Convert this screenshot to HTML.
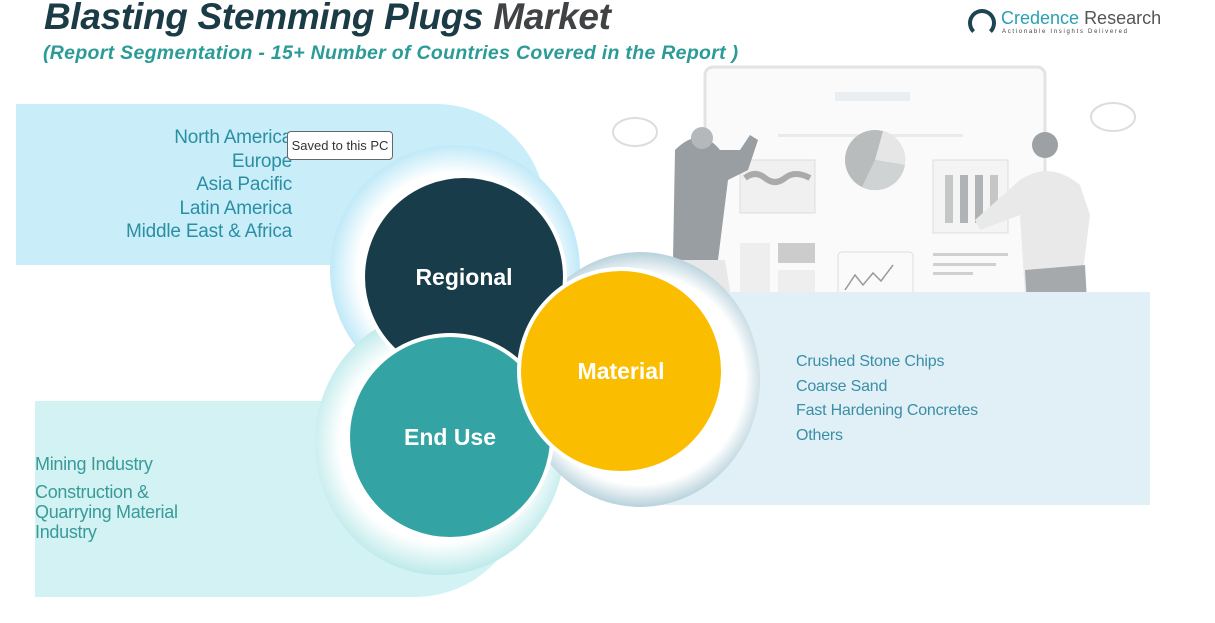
<!DOCTYPE html>
<html><head><meta charset="utf-8"><style>
body{margin:0;width:1215px;height:623px;background:#fff;position:relative;overflow:hidden;font-family:"Liberation Sans",sans-serif}
.a{position:absolute}
.t{font-weight:bold;font-style:italic}
.c{border-radius:50%;border:4px solid #fff;box-sizing:border-box;display:flex;align-items:center;justify-content:center;color:#fff;font-weight:bold;font-size:23px}
.reg div{font-size:19px;color:#2a8fa3;text-align:right;line-height:23.5px;letter-spacing:-0.2px}
.mat div{font-size:16px;color:#3a8ea6;line-height:24.5px;letter-spacing:-0.2px}
.eu div{font-size:18px;color:#3a9a9a;line-height:20px;letter-spacing:-0.3px}
</style></head><body>
<svg class="a" style="left:0;top:0" width="1215" height="623">
<rect x="705" y="67" width="340" height="260" rx="8" fill="#fafafa" stroke="#e3e3e3" stroke-width="3"/>
<rect x="835" y="92" width="75" height="9" fill="#eaeef0"/>
<rect x="778" y="134" width="185" height="3" fill="#eaeaea"/>
<rect x="740" y="160" width="75" height="53" fill="#f0f0f0" stroke="#ddd"/>
<path d="M745 178q10-8 20 0t20 0t25 0" stroke="#aaa" stroke-width="6" fill="none"/>
<circle cx="875" cy="160" r="30" fill="#b9bcbd"/>
<path d="M875 160L883 131A30 30 0 0 1 905 165Z" fill="#e6e6e6"/><path d="M875 160L905 165A30 30 0 0 1 862 187Z" fill="#d0d3d4"/>
<rect x="933" y="160" width="75" height="73" fill="#f4f4f4" stroke="#ddd"/>
<rect x="945" y="175" width="8" height="48" fill="#c4c6c8"/><rect x="960" y="175" width="8" height="48" fill="#b0b3b5"/><rect x="975" y="175" width="8" height="48" fill="#b0b3b5"/><rect x="990" y="175" width="8" height="40" fill="#c4c6c8"/>
<rect x="740" y="243" width="30" height="60" fill="#eee"/><rect x="778" y="243" width="37" height="20" fill="#ccc"/><rect x="778" y="270" width="37" height="33" fill="#eee"/>
<rect x="838" y="252" width="75" height="50" rx="4" fill="#fafafa" stroke="#ddd"/>
<path d="M845 290l10-15 8 10 10-12 8 8 12-16" stroke="#999" fill="none" stroke-width="1.5"/>
<rect x="933" y="253" width="75" height="3" fill="#d0d0d0"/><rect x="933" y="263" width="63" height="3" fill="#d0d0d0"/><rect x="933" y="272" width="40" height="3" fill="#d0d0d0"/>
<path d="M675 150q25-25 45 0l20 0 10 -15 8 5 -10 30 -20 10 -10 80 -45 0z" fill="#999ea2"/>
<circle cx="702" cy="138" r="11" fill="#b5b8ba"/>
<path d="M680 260l45 0 15 90 -60 0z" fill="#e8e8e8"/>
<circle cx="1045" cy="145" r="13" fill="#9da1a4"/>
<path d="M1020 180q30-20 60 5l10 30 -10 80 -55 0 -5 -80 -40 15 -5-10z" fill="#e9e9e9"/>
<path d="M1025 270l60 -5 5 90 -60 0z" fill="#a5a9ac"/>
<ellipse cx="635" cy="132" rx="22" ry="14" fill="none" stroke="#ddd" stroke-width="2"/>
<ellipse cx="1113" cy="117" rx="22" ry="14" fill="none" stroke="#ddd" stroke-width="2"/>
</svg>
<div class="a" style="left:16px;top:104px;width:530px;height:161px;background:#c9eefa;border-radius:0 110px 0 0"></div>
<div class="a" style="left:35px;top:401px;width:490px;height:196px;background:#d3f2f3;border-radius:0 0 110px 0"></div>
<div class="a" style="left:640px;top:292px;width:510px;height:213px;background:#e1f0f6"></div>
<div class="a" style="left:330px;top:145px;width:250px;height:250px;border-radius:50%;background:radial-gradient(circle,#fff 0 55%,#aee3f6 75%,#e8f7fd 100%)"></div>
<div class="a" style="left:315px;top:310px;width:250px;height:265px;border-radius:50%;background:radial-gradient(circle,#fff 0 55%,#a9e3e4 78%,#e4f7f7 100%)"></div>
<div class="a" style="left:520px;top:252px;width:240px;height:255px;border-radius:50%;background:radial-gradient(circle,#fff 0 60%,#8fb8c8 80%,#dceef4 100%)"></div>
<div class="a c" style="left:361px;top:174px;width:206px;height:206px;background:#193c4a">Regional</div>
<div class="a c" style="left:346px;top:333px;width:208px;height:208px;background:#34a3a4">End Use</div>
<div class="a c" style="left:517px;top:267px;width:208px;height:208px;background:#fbbd00">Material</div>
<div class="a t" style="left:44px;top:-4px;font-size:37px;color:#1b3b46;white-space:nowrap;letter-spacing:-0.3px">Blasting Stemming Plugs <span style="color:#404244">Market</span></div>
<div class="a t" style="left:43px;top:42px;font-size:19.5px;color:#2b9b98;white-space:nowrap;letter-spacing:0.3px">(Report Segmentation - 15+ Number of Countries Covered in the Report )</div>
<div class="a" style="left:968px;top:9px;width:28px;height:28px;border-radius:50%;border:4px solid #1d4452;box-sizing:border-box;border-bottom-color:transparent"></div>
<div class="a" style="left:1001px;top:8px;font-size:18px;color:#2aa0b5;white-space:nowrap">Credence <span style="color:#555">Research</span></div>
<div class="a" style="left:1002px;top:29px;font-size:6px;letter-spacing:1.7px;color:#444;white-space:nowrap">Actionable Insights Delivered</div>
<div class="a reg" style="left:60px;top:126px;width:232px"><div>North America</div><div>Europe</div><div>Asia Pacific</div><div>Latin America</div><div>Middle East &amp; Africa</div></div>
<div class="a" style="left:287px;top:131px;width:104px;height:27px;background:#fff;border:1px solid #666;border-radius:4px;font-size:13px;color:#333;line-height:27px;text-align:center">Saved to this PC</div>
<div class="a mat" style="left:796px;top:350px"><div>Crushed Stone Chips</div><div>Coarse Sand</div><div>Fast Hardening Concretes</div><div>Others</div></div>
<div class="a eu" style="left:35px;top:454px"><div>Mining Industry</div><div style="margin-top:8px">Construction &amp;<br>Quarrying Material<br>Industry</div></div>
</body></html>
